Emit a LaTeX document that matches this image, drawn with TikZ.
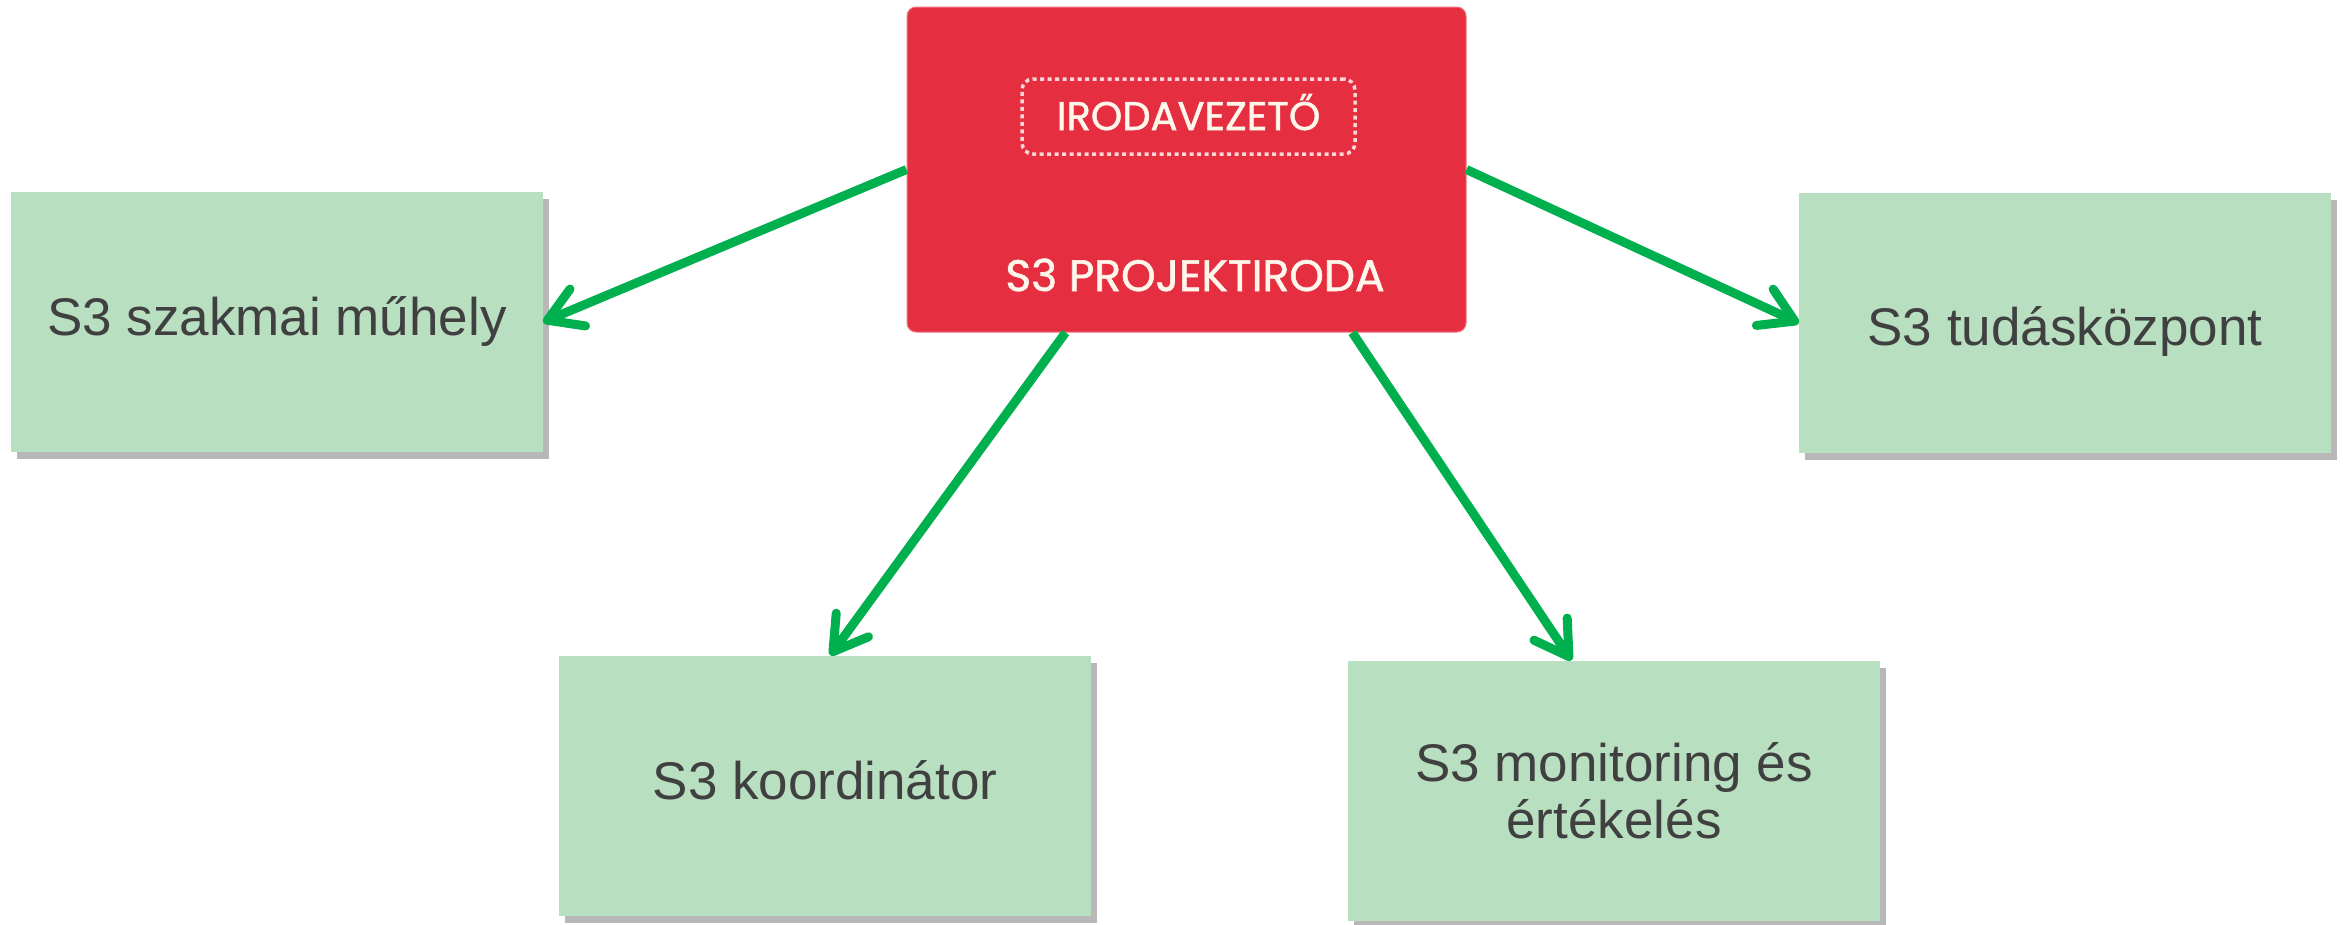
\documentclass[tikz,border=0pt]{standalone}
\usepackage{fontspec}
\setmainfont{Liberation Sans}
\newfontfamily\geofont[FakeBold=1.3]{Poppins}
\usetikzlibrary{arrows.meta,calc,shadows}
\definecolor{boxgreen}{HTML}{B9DFC1}
\definecolor{textgrey}{HTML}{404040}
\definecolor{officered}{HTML}{E62E41}
\definecolor{officeedge}{HTML}{F07585}
\definecolor{arrowgreen}{HTML}{00B04F}
\definecolor{cream}{HTML}{FFF6EC}
\definecolor{dashpink}{HTML}{FAD6D6}
\begin{document}
\begin{tikzpicture}[x=1pt,y=-1pt,
  gbox/.style={rectangle, fill=boxgreen, inner sep=0pt,
    minimum width=532pt, minimum height=260pt, text=textgrey,
    font=\fontsize{53}{57}\selectfont, align=center,
    drop shadow={shadow xshift=6pt, shadow yshift=-7pt, opacity=0.28, fill=black}},
  oneline/.style={text height=39pt, text depth=12pt},
  redbox/.style={rectangle, fill=officered, draw=officeedge, line width=1pt,
    rounded corners=9pt, minimum width=559pt, minimum height=325pt, inner sep=0pt},
  redtext/.style={text=cream, inner sep=0pt, text depth=0pt},
  dashbox/.style={draw=dashpink, line width=3.5pt, dash pattern=on 4pt off 3.5pt,
    rounded corners=11pt, minimum width=333pt, minimum height=75pt},
  arr/.style={draw=arrowgreen, line width=9pt,
    -{Straight Barb[length=33pt,width=40pt,round]}}
]
\useasboundingbox[fill=white] (0,0) rectangle (2343,924);

% central office
\node[redbox] (office) at (1186.5,169.5) {};
\node[redtext, dashbox, font=\geofont\fontsize{40}{42}\selectfont, text height=27pt]
  (head) at (1188.5,116.5) {IRODAVEZETŐ};
\node[redtext, font=\geofont\fontsize{44}{46}\selectfont, text height=30pt]
  (officename) at (1195,276) {S3 PROJEKTIRODA};

% green boxes
\node[gbox, oneline] (workshop) at (277,322) {S3 szakmai műhely};
\node[gbox, text height=50pt, text depth=6pt] (knowledge) at (2065,323) {S3 tudásközpont};
\node[gbox, oneline] (coord) at (825,785.5) {S3 koordinátor};
\node[gbox] (monitor) at (1614,790.5) {S3 monitoring és\\értékelés};

% connectors
\draw[arr] (office.west) -- (workshop.east);
\draw[arr] (office.east) -- (knowledge.west);
\draw[arr] ($(office.south west)!0.284!(office.south east)$) -- ($(coord.north west)!0.51!(coord.north east)$);
\draw[arr] ($(office.south west)!0.796!(office.south east)$) -- ($(monitor.north west)!0.42!(monitor.north east)$);
\end{tikzpicture}
\end{document}
